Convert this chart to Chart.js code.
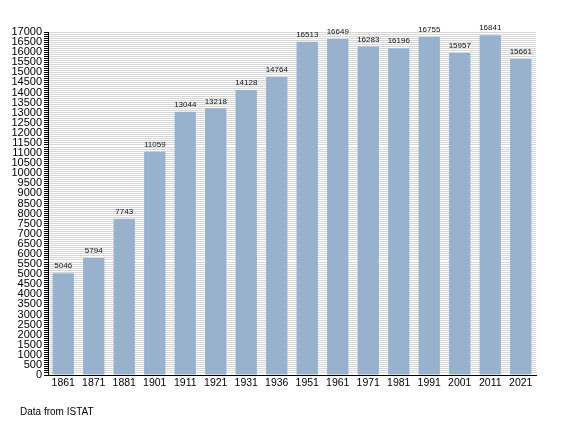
<!DOCTYPE html>
<html>
<head>
<meta charset="utf-8">
<script src="https://cdn.jsdelivr.net/npm/chart.js@4/dist/chart.umd.min.js"></script>
<style>
  body { margin: 0; background: #fff; }
  #wrap { position: relative; width: 565px; height: 423px; }
  #note { position: absolute; left: 20px; top: 406px; font: 10px "Liberation Sans", Arial, sans-serif; color: #000; }
</style>
</head>
<body>
<div id="wrap">
  <canvas id="canvas" width="565" height="423"></canvas>
  <div id="note">Data from ISTAT</div>
</div>
<script>
'use strict';

var years = ['1861', '1871', '1881', '1901', '1911', '1921', '1931', '1936', '1951', '1961', '1971', '1981', '1991', '2001', '2011', '2021'];
var population = [5046, 5794, 7743, 11059, 13044, 13218, 14128, 14764, 16513, 16649, 16283, 16196, 16755, 15957, 16841, 15661];
var yMax = 17000;
var yStep = 100;   // minor grid
var yLabelStep = 500;

// valori sopra le barre
var barValues = {
	id: 'barValues',
	afterDatasetsDraw: function(chart) {
		var ctx = chart.ctx;
		var meta = chart.getDatasetMeta(0);
		ctx.save();
		ctx.font = '8px "Liberation Sans", Arial, sans-serif';
		ctx.fillStyle = '#111';
		ctx.textAlign = 'center';
		ctx.textBaseline = 'bottom';
		meta.data.forEach(function(bar, i) {
			ctx.fillText(population[i], bar.x, bar.y - 3);
		});
		ctx.restore();
	}
};

window.onload = function() {
	var ctx = document.getElementById('canvas').getContext('2d');
	window.myBar = new Chart(ctx, {
		type: 'bar',
		data: {
			labels: years,
			datasets: [{
				data: population,
				backgroundColor: '#98b2cd',
				borderWidth: 0,
				barPercentage: 0.7,
				categoryPercentage: 1
			}]
		},
		options: {
			responsive: false,
			animation: false,
			layout: { padding: { left: 0, top: 32, right: 29, bottom: 28 } },
			plugins: {
				legend: { display: false },
				tooltip: { enabled: false }
			},
			scales: {
				x: {
					offset: true,
					grid: { display: false, drawTicks: false },
					border: { color: '#000', width: 1 },
					ticks: {
						color: '#000',
						padding: 2,
						maxRotation: 0,
						autoSkip: false,
						font: { family: '"Liberation Sans", Arial, sans-serif', size: 10.5 }
					},
					afterFit: function(s) { s.height = 20; }
				},
				y: {
					min: 0,
					max: yMax,
					grid: {
						color: '#d6d6d6',
						tickColor: '#000',
						tickLength: 4,
						drawOnChartArea: true
					},
					border: { color: '#000', width: 1 },
					ticks: {
						stepSize: yStep,
						maxTicksLimit: 500,
						autoSkip: false,
						color: '#000',
						padding: 2,
						font: { family: '"Liberation Sans", Arial, sans-serif', size: 11 },
						callback: function(v) { return v % yLabelStep === 0 ? String(v) : ''; }
					},
					afterFit: function(s) { s.width = 48; }
				}
			}
		},
		plugins: [barValues]
	});
};
</script>
</body>
</html>
